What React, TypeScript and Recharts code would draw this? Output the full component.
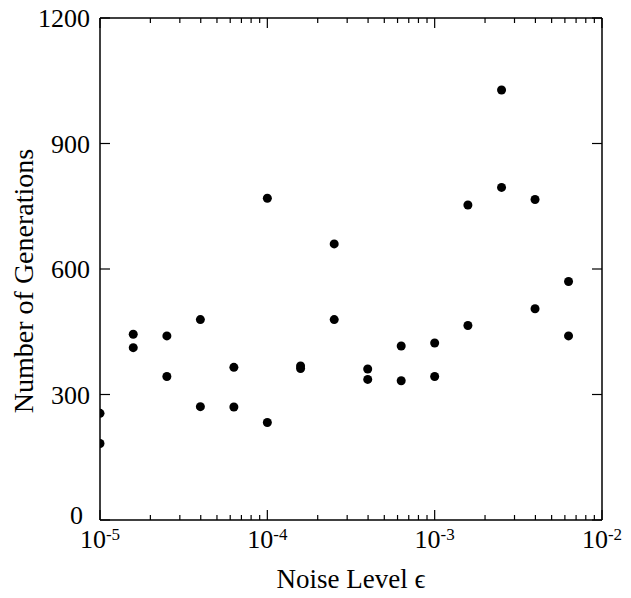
import React from "react";
import { ScatterChart, Scatter, XAxis, YAxis, Label } from "recharts";

// Noise levels (epsilon), one column of runs per level
const noiseLevels = [
  1e-5, 1.58e-5, 2.51e-5, 3.98e-5, 6.31e-5,
  1e-4, 1.58e-4, 2.51e-4, 3.98e-4, 6.31e-4,
  1e-3, 1.58e-3, 2.51e-3, 3.98e-3, 6.31e-3,
];
// Number of generations, two runs per noise level
const generationsRunA = [255, 444, 440, 479, 365, 769, 368, 660, 361, 416, 423, 753, 1028, 766, 570];
const generationsRunB = [183, 412, 343, 271, 270, 233, 362, 479, 336, 333, 343, 465, 795, 505, 440];

const xDomain = [1e-5, 1e-2];
const xMajorTicks = [1e-5, 1e-4, 1e-3, 1e-2];
const xMinorMultipliers = [2, 3, 4, 5, 6, 7, 8, 9];
const yTicks = [0, 300, 600, 900, 1200];
const yDomain = [0, 1200];

const xAllTicks: number[] = [];
xMajorTicks.forEach((d, i) => {
  xAllTicks.push(d);
  if (i < xMajorTicks.length - 1) xMinorMultipliers.forEach((m) => xAllTicks.push(m * d));
});

const dataA = noiseLevels.map((x, i) => ({ x, y: generationsRunA[i] }));
const dataB = noiseLevels.map((x, i) => ({ x, y: generationsRunB[i] }));

const FONT = '"Liberation Serif", "Times New Roman", serif';
const MAJOR = 10;
const MINOR = 5;
const EPS = 0.001;

const isMajor = (v: number) => {
  const l = Math.log10(v);
  return Math.abs(l - Math.round(l)) < 1e-6;
};

const XTickBottom = (props: any) => {
  const { x, y, payload } = props;
  const v = payload.value;
  const major = isMajor(v);
  const len = major ? MAJOR : MINOR;
  return (
    <g>
      <line x1={x} x2={x} y1={y} y2={y - len} stroke="#000" strokeWidth={1.2} />
      {major && (
        <text x={x} y={y + 28} textAnchor="middle" fontFamily={FONT} fontSize={26} fill="#000">
          10
          <tspan fontSize={17} dy={-8}>{String(Math.round(Math.log10(v)))}</tspan>
        </text>
      )}
    </g>
  );
};

const XTickTop = (props: any) => {
  const { x, y, payload } = props;
  const len = isMajor(payload.value) ? MAJOR : MINOR;
  return <line x1={x} x2={x} y1={y} y2={y + len} stroke="#000" strokeWidth={1.2} />;
};

const YTickLeft = (props: any) => {
  const { x, y, payload } = props;
  const isZero = payload.value === 0;
  return (
    <g>
      <line x1={x} x2={x + MAJOR} y1={y} y2={y} stroke="#000" strokeWidth={1.2} />
      <text
        x={isZero ? x - 17 : x - 10}
        y={isZero ? y - 5 : y}
        dy="0.35em"
        textAnchor="end"
        fontFamily={FONT}
        fontSize={26}
        fill="#000"
      >
        {payload.value}
      </text>
    </g>
  );
};

const YTickRight = (props: any) => {
  const { x, y } = props;
  return <line x1={x} x2={x - MAJOR} y1={y} y2={y} stroke="#000" strokeWidth={1.2} />;
};

const Dot = (props: any) => <circle cx={props.cx} cy={props.cy} r={4.5} fill="#000" />;

const axisLine = { stroke: "#000", strokeWidth: 1.5 };

export default function App() {
  return (
    <div style={{ width: 631, height: 598, margin: "-8px 0 0 -8px" }}>
      <ScatterChart width={631} height={598} margin={{ top: 17, right: 28, bottom: 0, left: 0 }}>
        <XAxis
          xAxisId="bottom"
          dataKey="x"
          type="number"
          scale="log"
          domain={xDomain}
          allowDataOverflow
          ticks={xAllTicks}
          interval={0}
          orientation="bottom"
          height={78}
          tickSize={EPS}
          tickMargin={EPS}
          tickLine={false}
          axisLine={axisLine}
          tick={<XTickBottom />}
        >
          <Label
            content={(p: any) => {
              const vb = p.viewBox;
              return (
                <text x={vb.x + vb.width / 2} y={vb.y + 68} textAnchor="middle" fontFamily={FONT} fontSize={27} fill="#000">
                  Noise Level ϵ
                </text>
              );
            }}
          />
        </XAxis>
        <XAxis
          xAxisId="top"
          dataKey="x"
          type="number"
          scale="log"
          domain={xDomain}
          allowDataOverflow
          ticks={xAllTicks}
          interval={0}
          orientation="top"
          height={1}
          tickSize={EPS}
          tickMargin={EPS}
          tickLine={false}
          axisLine={axisLine}
          tick={<XTickTop />}
        />
        <YAxis
          yAxisId="left"
          dataKey="y"
          type="number"
          domain={yDomain}
          allowDataOverflow
          ticks={yTicks}
          interval={0}
          orientation="left"
          width={100}
          tickSize={EPS}
          tickMargin={EPS}
          tickLine={false}
          axisLine={axisLine}
          tick={<YTickLeft />}
        >
          <Label
            content={(p: any) => {
              const vb = p.viewBox;
              const cx = 33;
              const cy = vb.y + vb.height / 2 + 12;
              return (
                <text x={cx} y={cy} transform={`rotate(-90, ${cx}, ${cy})`} textAnchor="middle" fontFamily={FONT} fontSize={28} fill="#000">
                  Number of Generations
                </text>
              );
            }}
          />
        </YAxis>
        <YAxis
          yAxisId="right"
          dataKey="y"
          type="number"
          domain={yDomain}
          allowDataOverflow
          ticks={yTicks}
          interval={0}
          orientation="right"
          width={1}
          tickSize={EPS}
          tickMargin={EPS}
          tickLine={false}
          axisLine={axisLine}
          tick={<YTickRight />}
        />
        <Scatter xAxisId="bottom" yAxisId="left" data={dataA} shape={<Dot />} isAnimationActive={false} />
        <Scatter xAxisId="top" yAxisId="right" data={dataB} shape={<Dot />} isAnimationActive={false} />
      </ScatterChart>
    </div>
  );
}
